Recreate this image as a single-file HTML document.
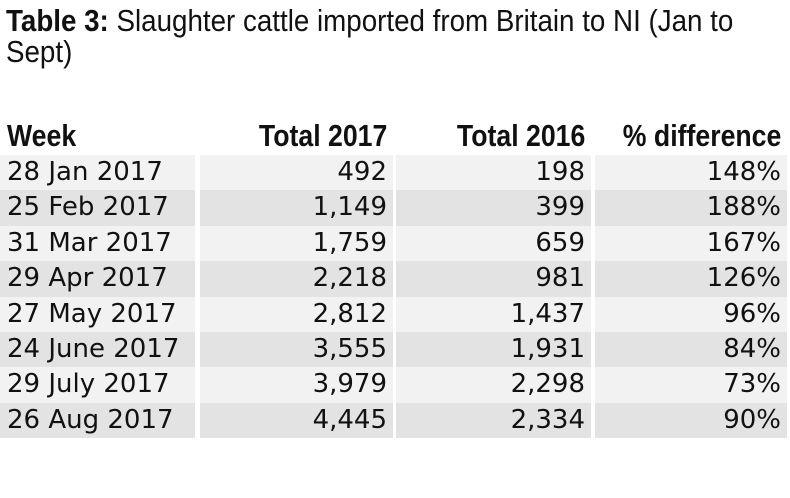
<!DOCTYPE html>
<html><head><meta charset="utf-8"><style>
body{margin:0;width:790px;height:498px;background:#fff;font-family:"Liberation Sans",sans-serif;overflow:hidden;position:relative}
.title{position:absolute;left:6px;top:5px;font-size:31px;line-height:31px;color:#111;transform:scaleX(0.895);transform-origin:left top;width:900px}
.title b{font-weight:bold}
.hdr{position:absolute;top:117px;height:38px;font-weight:bold;font-size:31px;line-height:38px;color:#111}
.cell{position:absolute;height:35.4px;font-size:26px;line-height:35px;color:#111;box-sizing:border-box;font-family:"DejaVu Sans",sans-serif}
</style></head><body>
<div class="title"><b>Table 3:</b> Slaughter cattle imported from Britain to NI (Jan to<br>Sept)</div>
<div id="t"></div>
<script>
const weeks=["28 Jan 2017","25 Feb 2017","31 Mar 2017","29 Apr 2017","27 May 2017","24 June 2017","29 July 2017","26 Aug 2017"];
const total2017=["492","1,149","1,759","2,218","2,812","3,555","3,979","4,445"];
const total2016=["198","399","659","981","1,437","1,931","2,298","2,334"];
const pctDiff=["148%","188%","167%","126%","96%","84%","73%","90%"];
const headers=["Week","Total 2017","Total 2016","% difference"];
const cols=[[0,195,7,'l'],[200,193,6,'r'],[396,195,6,'r'],[595,192,6,'r']];
const t=document.getElementById('t');
headers.forEach((h,i)=>{
 const d=document.createElement('div');
 
 
 d.className='hdr';
 const c=cols[i];
 d.style.left=c[0]+'px';d.style.width=c[1]+'px';
 d.style.textAlign=c[3]=='r'?'right':'left';
 d.style.padding=c[3]=='r'?'0 '+c[2]+'px 0 0':'0 0 0 '+c[2]+'px';
 d.style.boxSizing='border-box';
 d.innerHTML='<span style="display:inline-block;white-space:nowrap;transform:scaleX(0.86);transform-origin:'+(c[3]=='r'?'right':'left')+' center">'+h+'</span>';
 t.appendChild(d);
});
const data=[weeks,total2017,total2016,pctDiff];
weeks.forEach((w,r)=>{
 for(let i=0;i<4;i++){
  const d=document.createElement('div');
  
  
  d.className='cell';
  const c=cols[i];
  d.style.left=c[0]+'px';d.style.width=c[1]+'px';
  d.style.top=(155+r*35.4)+'px';
  d.style.background=r%2?'#e3e3e3':'#f2f2f2';
  d.style.textAlign=c[3]=='r'?'right':'left';
  d.style.padding=c[3]=='r'?'0 '+c[2]+'px 0 0':'0 0 0 '+c[2]+'px';
  d.style.whiteSpace='nowrap';
  d.textContent=data[i][r];
  t.appendChild(d);
 }
});
</script>
</body></html>
